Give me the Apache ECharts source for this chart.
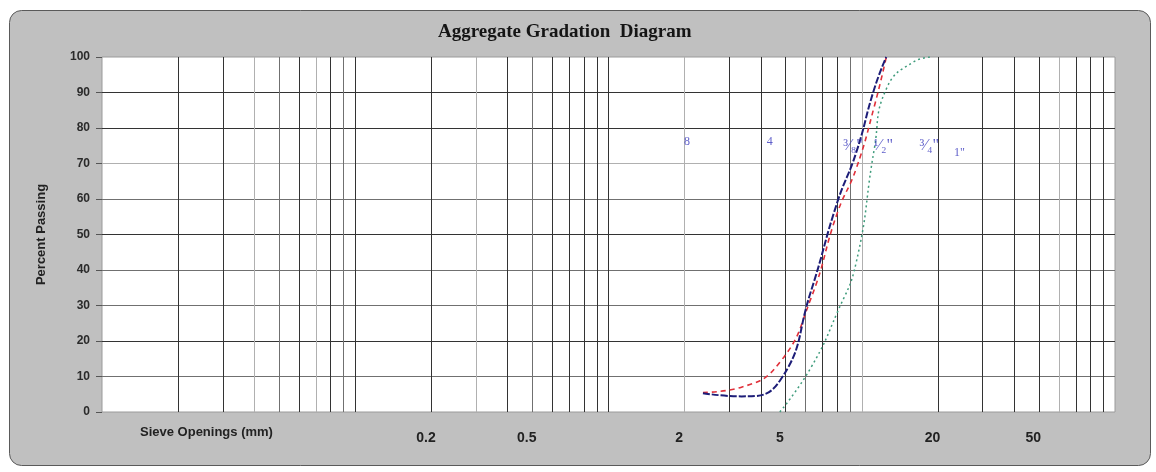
<!DOCTYPE html>
<html>
<head>
<meta charset="utf-8">
<title>Aggregate Gradation Diagram</title>
<script src="https://cdn.jsdelivr.net/npm/echarts@6/dist/echarts.min.js"></script>
<style>
  html, body { margin: 0; padding: 0; background: #ffffff; }
  #chart { width: 1156px; height: 472px; }
</style>
</head>
<body>
<div id="chart"></div>
<script>
// Sieve designations shown on the chart and their openings (mm)
const sieveSizes = [2.36, 4.75, 9.5, 12.5, 19, 25];
const sieveNames = ['8', '4', '³⁄₈"', '¹⁄₂"', '³⁄₄"', '1"'];
const sieveNameLevel = [76, 76, 75, 75, 75, 73];

// Openings (mm) at which the gradation curves are recorded
const openings = [2.36, 3.35, 4.75, 6.3, 8, 9.5, 11.2, 12.5, 16, 19];

// Percent passing for each gradation curve (null = not plotted)
const passingBlue  = [5.3, 4.4, 8.8, 34, 59, 73, 91, 100, null, null];
const passingRed   = [5.5, 7.0, 14, 32, 56, 68.5, 86, 100, null, null];
const passingGreen = [null, null, 0, 12.5, 28, 42, 74, 91, 98.6, 100];

// Log-grid lines and labelled openings (mm)
const gridMm = [
  0.02, 0.03, 0.04, 0.05, 0.06, 0.07, 0.08, 0.09, 0.1,
  0.2, 0.3, 0.4, 0.5, 0.6, 0.7, 0.8, 0.9, 1,
  2, 3, 4, 5, 6, 7, 8, 9, 10,
  20, 30, 40, 50, 60, 70, 80, 90
];
const labelMm = [0.2, 0.5, 2, 5, 20, 50];

const toPairs = (vals) => openings.map((s, i) => [s, vals[i]]);

// shades for the grid lines
const D = '#333333', M = '#707070', L = '#b0b0b0';
const xLineColors = [
  D, D, L, M, D, L, D, M, D,
  D, L, D, M, D, D, D, D, D,
  L, D, D, D, M, D, D, M, L,
  D, D, D, D, L, D, D, D
];
const yLineColors = [M, D, M, M, D, M, L, D, D];

// horizontal nudge of the sieve designations
const nameShift = { '8': -16, '4': -10 };

const sansFont = '"Liberation Sans", Arial, sans-serif';
const serifFont = '"Liberation Serif", "Times New Roman", "DejaVu Serif", serif';

const chart = echarts.init(document.getElementById('chart'), null, { renderer: 'canvas' });

chart.setOption({
  animation: false,
  backgroundColor: '#ffffff',
  title: {
    text: 'Aggregate Gradation  Diagram',
    left: 438,
    top: 23,
    padding: 0,
    textStyle: { fontFamily: serifFont, fontWeight: 'bold', fontSize: 19, color: '#151515' }
  },
  graphic: [
    {
      type: 'rect',
      z: -10,
      silent: true,
      shape: { x: 9.5, y: 10.5, width: 1141, height: 455, r: 12 },
      style: { fill: '#c0c0c0', stroke: '#5a5a5a', lineWidth: 1 }
    },
    {
      type: 'text',
      left: 140,
      top: 426,
      silent: true,
      style: { text: 'Sieve Openings (mm)', font: 'bold 13px ' + sansFont, fill: '#222222' }
    }
  ],
  grid: {
    left: 102, right: 41, top: 57, bottom: 60,
    show: true,
    backgroundColor: '#ffffff',
    borderColor: '#9a9a9a',
    borderWidth: 1
  },
  xAxis: {
    type: 'log',
    logBase: 10,
    min: 0.01,
    max: 100,
    axisLine: { show: false },
    axisTick: { show: false, customValues: gridMm },
    axisLabel: {
      customValues: labelMm,
      margin: 19,
      padding: [0, 11, 0, 0],
      fontFamily: sansFont,
      fontWeight: 'bold',
      fontSize: 14,
      color: '#222222',
      formatter: (v) => String(v)
    },
    splitLine: {
      show: true,
      showMinLine: true,
      showMaxLine: true,
      lineStyle: { color: xLineColors, width: 1 }
    }
  },
  yAxis: {
    type: 'value',
    min: 0,
    max: 100,
    interval: 10,
    name: 'Percent Passing',
    nameLocation: 'middle',
    nameRotate: 90,
    nameGap: 54,
    nameTextStyle: { fontFamily: sansFont, fontWeight: 'bold', fontSize: 13, color: '#222222' },
    axisLine: { show: false },
    axisTick: { show: true, length: 6, lineStyle: { color: '#555555' } },
    axisLabel: { margin: 12, fontFamily: sansFont, fontWeight: 'bold', fontSize: 12, color: '#2a2a2a' },
    splitLine: {
      show: true,
      showMinLine: false,
      showMaxLine: false,
      lineStyle: { color: yLineColors, width: 1 }
    }
  },
  series: [
    {
      name: 'Red',
      type: 'line',
      smooth: 0.5,
      symbol: 'none',
      data: toPairs(passingRed),
      lineStyle: { color: '#e0303a', width: 1.6, type: [5, 4] },
      z: 3
    },
    {
      name: 'Green',
      type: 'line',
      smooth: 0.5,
      symbol: 'none',
      data: toPairs(passingGreen),
      lineStyle: { color: '#3f9c7c', width: 1.5, type: [2, 3] },
      z: 3
    },
    {
      name: 'Blue',
      type: 'line',
      smooth: 0.5,
      symbol: 'none',
      data: toPairs(passingBlue),
      lineStyle: { color: '#1d1d78', width: 2, type: [7, 2] },
      z: 4
    },
    {
      name: 'Sieves',
      type: 'scatter',
      symbolSize: 0,
      silent: true,
      data: sieveSizes.map((s, i) => ({
        value: [s, sieveNameLevel[i]],
        name: sieveNames[i],
        label: { offset: [nameShift[sieveNames[i]] !== undefined ? nameShift[sieveNames[i]] : -3, 0] }
      })),
      label: {
        show: true,
        position: 'inside',
        formatter: (p) => (p.name.indexOf('⁄') >= 0 ? '{f|' + p.name + '}' : '{d|' + p.name + '}'),
        rich: {
          d: { fontFamily: serifFont, fontSize: 12, color: '#3434bc' },
          f: { fontFamily: serifFont, fontSize: 16, color: '#3434bc' }
        }
      },
      z: 5
    }
  ]
});
</script>
</body>
</html>
